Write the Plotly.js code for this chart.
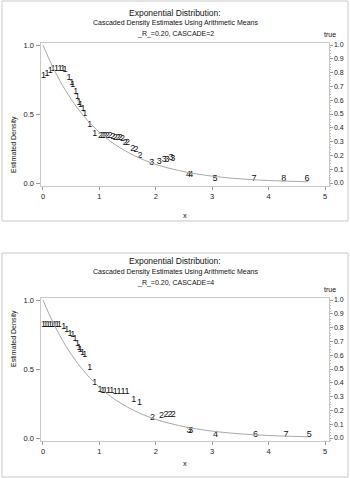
<!DOCTYPE html>
<html><head><meta charset="utf-8">
<script src="https://cdn.plot.ly/plotly-3.0.1.min.js"></script>
<style>html,body{margin:0;padding:0;background:#fff}#g{width:350px;height:478px}</style>
</head><body><div id="g"></div>
<script>
// true density curve
const trueX = [0,0.1,0.2,0.3,0.4,0.5,0.6,0.7,0.8,0.9,1.0,1.2,1.4,1.6,1.8,2.0,2.2,2.4,2.6,2.8,3.0,3.4,3.8,4.2,4.7];
const trueY = [1.0,0.905,0.819,0.741,0.670,0.607,0.549,0.497,0.449,0.407,0.368,0.301,0.247,0.202,0.165,0.135,0.111,0.091,0.074,0.061,0.050,0.033,0.022,0.015,0.009];

// CASCADE=2 estimates
const c2X = [0.01,0.07,0.13,0.18,0.24,0.30,0.35,0.39,0.46,0.51,0.53,0.58,0.61,0.64,0.665,0.71,0.74,0.83,0.92,
             1.02,1.06,1.10,1.14,1.19,1.24,1.28,1.33,1.37,1.41,1.46,1.50,1.59,1.65,1.72,
             1.93,2.06,2.15,2.20,2.27,2.30,
             2.58,2.62,3.05,3.74,4.27,4.68];
const c2Y = [0.78,0.795,0.815,0.826,0.83,0.83,0.826,0.82,0.76,0.73,0.71,0.66,0.625,0.58,0.565,0.54,0.505,0.42,0.36,
             0.34,0.34,0.34,0.34,0.34,0.335,0.33,0.33,0.325,0.32,0.295,0.29,0.25,0.24,0.20,
             0.145,0.155,0.167,0.17,0.18,0.175,
             0.058,0.058,0.03,0.03,0.03,0.03];
const c2Lab = ['1','1','1','1','1','1','1','1','1','1','1','1','1','1','1','1','1','1','1',
               '2','2','2','2','2','2','2','2','2','2','2','2','2','2','2',
               '3','3','3','3','3','3',
               '4','4','5','7','8','6'];

// CASCADE=4 estimates
const c4X = [0.01,0.05,0.09,0.13,0.17,0.21,0.25,0.29,0.37,0.42,0.48,0.53,0.57,0.61,0.64,0.66,0.70,0.74,0.83,0.92,
             1.01,1.06,1.10,1.16,1.22,1.28,1.35,1.42,1.49,1.61,1.71,
             1.94,2.10,2.18,2.25,2.31,
             2.59,2.62,3.06,3.77,4.31,4.72];
const c4Y = [0.82,0.82,0.82,0.82,0.82,0.82,0.82,0.82,0.805,0.786,0.757,0.75,0.72,0.684,0.655,0.64,0.62,0.60,0.51,0.40,
             0.35,0.345,0.345,0.34,0.34,0.338,0.338,0.336,0.336,0.275,0.258,
             0.148,0.16,0.168,0.172,0.172,
             0.05,0.05,0.027,0.022,0.022,0.022];
const c4Lab = ['1','1','1','1','1','1','1','1','1','1','1','1','1','1','1','1','1','1','1','1',
               '1','1','1','1','1','1','1','1','1','1','1',
               '2','2','2','2','2',
               '3','3','4','6','7','5'];

const xTicks = [0,1,2,3,4,5];
const yTicks = [0,0.5,1.0];
const trueTicks = [0,0.1,0.2,0.3,0.4,0.5,0.6,0.7,0.8,0.9,1.0];
const titles = ['Exponential Distribution:','Cascaded Density Estimates Using Arithmetic Means'];
const subTitles = ['_R_=0.20, CASCADE=2','_R_=0.20, CASCADE=4'];

const W=350,H=478;
const px = v=>v/W, py = v=>1-v/H;
const FONT = 'Liberation Sans, Arial, sans-serif';
const frame = '#c8c8c8';

function xa(){
  return {domain:[px(40.5),px(328.5)], range:[-0.044,5.062], tickvals:xTicks, ticktext:xTicks.map(String),
    ticks:'outside', ticklen:3, tickcolor:'#999', showline:true, linecolor:frame, mirror:true,
    showgrid:false, zeroline:false, tickfont:{size:7.5,color:'#222',family:FONT}, fixedrange:true};
}
function ya(top,anchor){
  return {domain:[py(top+143),py(top)], range:[-0.0217,1.0145], anchor:anchor, tickvals:yTicks, tickformat:'.1f',
    ticks:'outside', ticklen:4, tickcolor:'#999', showline:true, linecolor:frame, mirror:true,
    showgrid:false, zeroline:false, tickfont:{size:7.5,color:'#222',family:FONT}};
}
function yr(over,anchor){
  return {overlaying:over, side:'right', anchor:anchor, range:[-0.0217,1.0145], tickvals:trueTicks, tickformat:'.1f',
    ticks:'outside', ticklen:3, tickcolor:'#999', showline:false, showgrid:false, zeroline:false,
    minor:{ticks:'outside', ticklen:1.5, dtick:0.02, tickcolor:'#bbb', showgrid:false},
    tickfont:{size:7,color:'#222',family:FONT}};
}

const curveStyle = {color:'#a8a8a8', width:1, shape:'spline'};
const txtFont = {family:FONT, size:9, color:'#111'};
const data = [
  {x:trueX, y:trueY, xaxis:'x', yaxis:'y2', mode:'lines', line:curveStyle, hoverinfo:'skip', showlegend:false},
  {x:c2X, y:c2Y, text:c2Lab, xaxis:'x', yaxis:'y', mode:'text', textposition:'middle center', textfont:txtFont, cliponaxis:false, showlegend:false},
  {x:trueX, y:trueY, xaxis:'x2', yaxis:'y4', mode:'lines', line:curveStyle, hoverinfo:'skip', showlegend:false},
  {x:c4X, y:c4Y, text:c4Lab, xaxis:'x2', yaxis:'y3', mode:'text', textposition:'middle center', textfont:txtFont, cliponaxis:false, showlegend:false}
];

const P = [0,255];
const ann = [];
P.forEach((o,i)=>{
  ann.push({text:titles[0], x:0.5, y:py(6+o), xref:'paper', yref:'paper', showarrow:false, font:{size:8.5,color:'#111',family:FONT}});
  ann.push({text:titles[1], x:0.5, y:py(17.3+o), xref:'paper', yref:'paper', showarrow:false, font:{size:7,color:'#111',family:FONT}});
  ann.push({text:subTitles[i], x:0.5, y:py(27.5+o), xref:'paper', yref:'paper', showarrow:false, font:{size:7,color:'#111',family:FONT}});
  ann.push({text:'true', x:px(338), y:py(34+o), xref:'paper', yref:'paper', yanchor:'middle', showarrow:false, font:{size:7,color:'#111',family:FONT}});
  ann.push({text:'Estimated Density', x:px(8), y:py(114.5+o), xref:'paper', yref:'paper', showarrow:false, textangle:-90, font:{size:7,color:'#111',family:FONT}});
  ann.push({text:'x', x:px(184.5), y:py(215+o), xref:'paper', yref:'paper', showarrow:false, font:{size:7.5,color:'#111',family:FONT}});
});

const shapes = [
  {type:'rect', xref:'paper', yref:'paper', x0:px(2), x1:px(348), y0:py(221), y1:py(1), line:{color:'#c8c8c8',width:1}},
  {type:'rect', xref:'paper', yref:'paper', x0:px(2), x1:px(348), y0:py(477), y1:py(253), line:{color:'#c8c8c8',width:1}}
];

const layout = {
  width:W, height:H, margin:{l:0,r:0,t:0,b:0}, paper_bgcolor:'#fff', plot_bgcolor:'#fff',
  font:{family:FONT, color:'#111'}, showlegend:false,
  xaxis: Object.assign(xa(),{anchor:'y'}),
  yaxis: ya(43,'x'),
  yaxis2: yr('y','x'),
  xaxis2: Object.assign(xa(),{anchor:'y3'}),
  yaxis3: ya(298,'x2'),
  yaxis4: yr('y3','x2'),
  annotations: ann, shapes: shapes
};
Plotly.newPlot('g', data, layout, {staticPlot:true, displayModeBar:false});
</script></body></html>
